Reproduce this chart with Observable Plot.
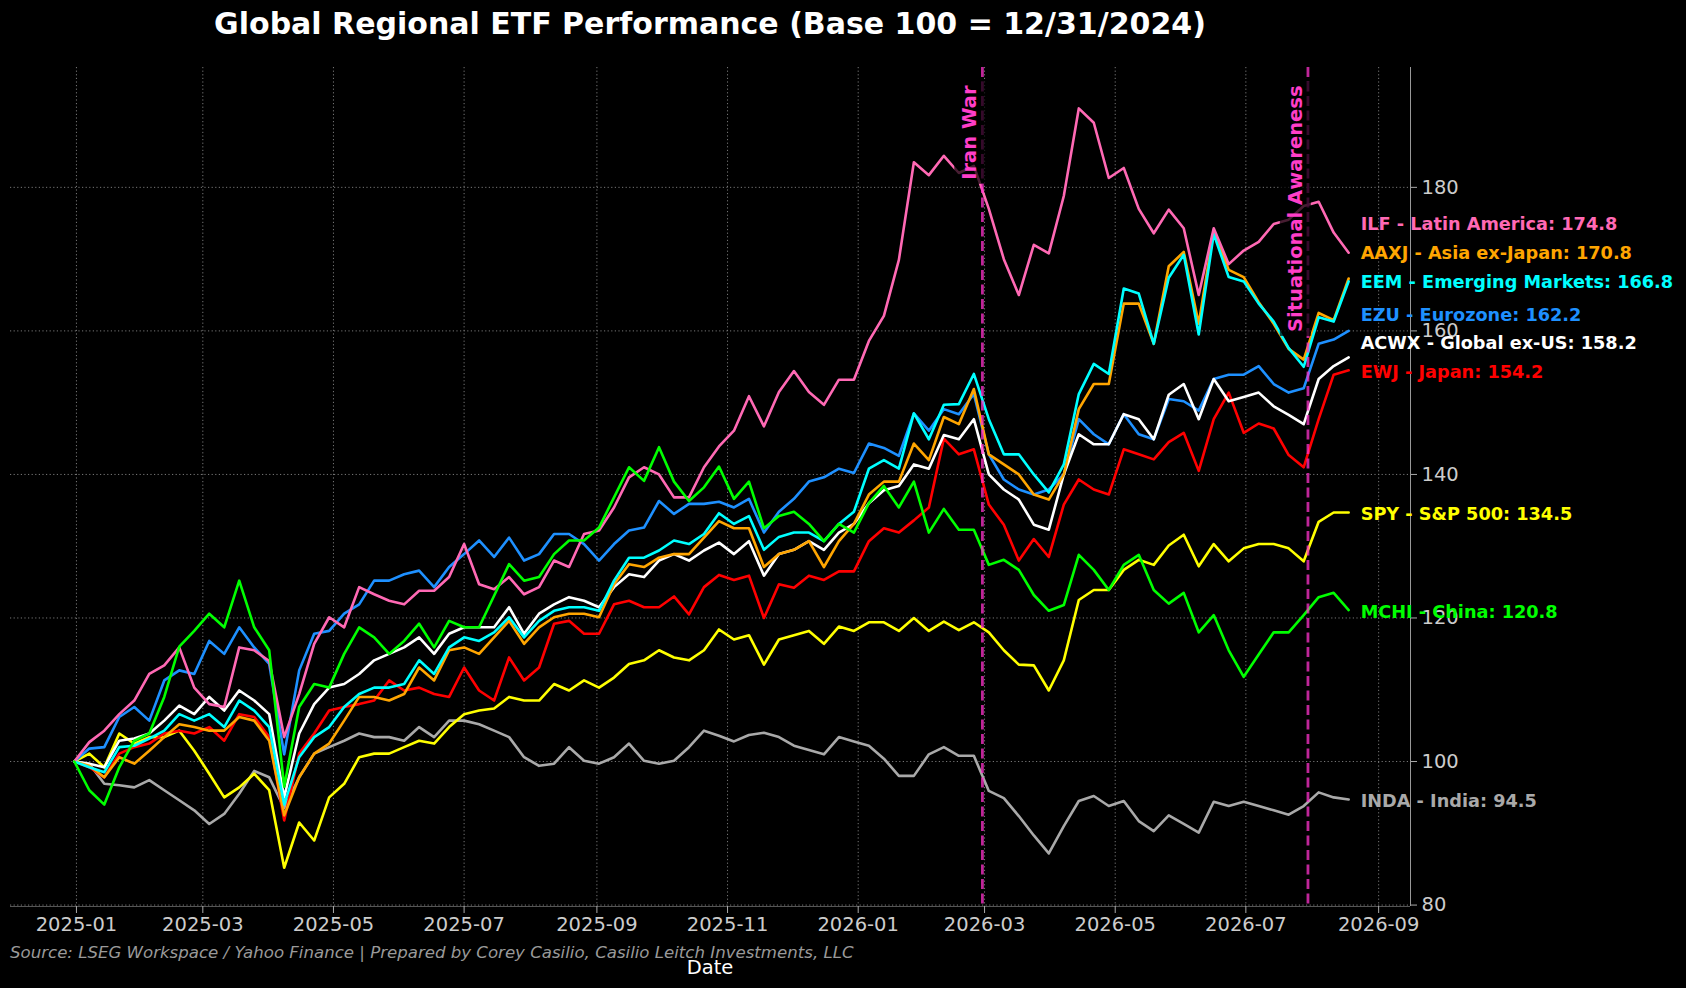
<!DOCTYPE html>
<html>
<head>
<meta charset="utf-8">
<script src="https://cdn.jsdelivr.net/npm/d3@7"></script>
<script src="https://cdn.jsdelivr.net/npm/@observablehq/plot@0.6"></script>
<style>
  html, body { margin: 0; padding: 0; background: #000; }
  #chart { width: 1686px; height: 988px; }
  #chart svg { display: block; }
</style>
</head>
<body>
<div id="chart"></div>
<script>
// ---------- DATA (weekly closes, base 100 = 2024-12-31) ----------
const firstDate = "2024-12-31";
const stepDays = 7;

const tickers = ["INDA", "SPY", "EWJ", "EZU", "ACWX", "AAXJ", "EEM", "ILF", "MCHI"];
const regionNames = ["India", "S&P 500", "Japan", "Eurozone", "Global ex-US", "Asia ex-Japan", "Emerging Markets", "Latin America", "China"];
const seriesColors = ["#a9a9a9", "#ffff00", "#ff0000", "#1e90ff", "#ffffff", "#ffa500", "#00ffff", "#ff69b4", "#00ff00"];
const labelValues = [94.5, 134.5, 154.2, 162.2, 158.2, 170.8, 166.8, 174.8, 120.8];

const inda = [100,99.7,96.9,96.7,96.4,97.4,96.0,94.6,93.2,91.3,92.7,95.5,98.7,97.8,93.5,
  97.8,101.1,102.0,102.9,103.9,103.4,103.4,102.9,104.8,103.4,105.7,105.7,105.2,104.3,
  103.4,100.6,99.4,99.7,102.0,100.1,99.7,100.6,102.5,100.1,99.7,100.1,102.0,104.3,
  103.6,102.8,103.7,104.0,103.4,102.2,101.6,101.0,103.4,102.8,102.2,100.4,98.0,98.0,101.0,
  102.0,100.8,100.8,95.9,94.9,92.4,89.7,87.2,91.0,94.5,95.2,93.8,94.5,91.7,90.3,
  92.5,91.3,90.1,94.4,93.8,94.4,93.8,93.2,92.6,93.8,95.7,95.0,94.7];

const spy = [100,101.1,99.2,103.9,102.5,103.4,103.4,104.3,101.5,98.3,95.0,96.4,98.3,96.0,85.2,
  91.5,89.0,95.0,96.9,100.6,101.1,101.1,102.0,102.9,102.5,104.8,106.6,107.1,107.4,
  109.0,108.5,108.5,110.8,109.9,111.3,110.3,111.7,113.6,114.1,115.5,114.5,114.1,115.5,
  118.4,117.0,117.6,113.5,117.0,117.6,118.2,116.4,118.8,118.2,119.4,119.4,118.2,120.0,118.2,
  119.5,118.3,119.4,118.0,115.5,113.5,113.4,109.9,114.1,122.5,123.9,123.9,126.7,128.1,127.4,
  130.1,131.6,127.2,130.3,127.9,129.7,130.3,130.3,129.7,127.9,133.4,134.7,134.7];

const ewj = [100,99.2,97.8,101.1,102.0,102.5,103.9,104.3,103.9,104.8,102.9,106.6,106.2,103.4,91.8,
  101.1,103.9,107.1,107.6,108.0,108.5,111.3,109.9,110.3,109.4,109.0,113.1,109.9,108.5,
  114.5,111.3,113.1,119.2,119.6,117.8,117.8,121.9,122.4,121.5,121.5,123.0,120.5,124.3,
  126.0,125.3,125.9,120.0,124.7,124.2,125.9,125.3,126.5,126.5,130.7,132.5,131.9,133.6,135.4,
  145.0,142.8,143.5,135.8,133.0,128.0,131.0,128.5,135.8,139.3,137.9,137.2,143.5,142.8,142.1,
  144.5,145.8,140.5,147.7,151.4,145.8,147.1,146.4,142.7,141.0,147.7,153.9,154.5];

const ezu = [100,101.8,102.0,106.2,107.6,105.7,111.3,112.7,112.2,116.8,115.0,118.7,115.9,113.6,101.0,
  112.7,117.8,118.2,120.6,121.9,125.2,125.2,126.1,126.6,124.3,127.1,128.9,130.8,128.5,
  131.2,128.0,128.9,131.7,131.7,130.3,128.0,130.3,132.2,132.6,136.3,134.5,135.9,135.9,
  136.2,135.4,136.6,131.9,134.8,136.6,139.0,139.6,140.8,140.2,144.3,143.7,142.6,148.5,146.1,
  149.1,148.4,151.2,142.8,139.3,137.9,137.2,137.9,140.0,147.7,145.6,144.2,148.4,145.6,144.9,
  150.5,150.2,148.9,153.3,153.9,153.9,155.1,152.6,151.4,152.0,158.2,158.8,160.0];

const acwx = [100,99.7,99.2,102.9,103.2,103.9,105.7,107.8,106.6,109.0,107.1,109.9,108.5,106.6,95.0,
  103.9,108.0,110.3,110.8,112.2,114.1,115.0,115.9,117.3,115.0,117.8,118.7,118.7,118.7,
  121.5,117.8,120.6,121.9,122.9,122.4,121.5,124.3,126.1,125.7,128.0,128.9,128.0,129.4,
  130.5,128.9,130.7,125.9,128.9,129.5,130.7,129.5,131.9,133.1,136.0,137.8,138.4,141.4,140.8,
  145.5,144.9,147.7,140.0,137.9,136.5,133.0,132.3,140.0,145.6,144.2,144.2,148.4,147.7,144.9,
  151.1,152.6,147.7,153.3,150.2,150.8,151.4,149.5,148.3,147.0,153.3,155.1,156.3];

const aaxj = [100,99.4,97.8,100.6,99.7,101.5,103.4,105.2,104.8,104.3,104.3,106.2,105.7,102.9,92.5,
  97.8,101.1,102.5,105.7,109.0,109.0,108.5,109.4,113.1,111.3,115.5,115.9,115.0,117.3,
  119.6,116.4,118.7,120.1,120.6,120.6,120.1,124.7,127.5,127.1,128.4,128.9,128.9,131.2,
  133.5,132.5,132.5,127.1,128.9,129.5,130.7,127.1,130.7,133.1,137.2,139.0,139.0,144.3,142.0,
  148.0,147.0,151.9,142.8,141.4,140.0,137.2,136.5,140.0,149.1,152.6,152.6,163.8,163.8,158.2,
  169.0,171.0,161.0,174.0,168.5,167.5,164.0,161.0,157.5,156.0,162.5,161.5,167.3];

const eem = [100,99.2,98.5,102.0,102.2,103.2,104.3,106.6,105.7,106.6,104.8,108.5,107.1,104.8,94.0,
  100.6,103.4,104.8,107.6,109.4,110.3,110.3,110.8,114.1,112.2,115.9,117.3,116.8,118.0,
  120.1,117.3,119.6,121.0,121.5,121.5,121.0,125.2,128.4,128.4,129.4,130.8,130.3,131.7,
  134.6,133.1,134.2,129.5,131.3,131.9,131.9,130.7,133.1,134.8,140.8,142.0,140.8,148.5,144.9,
  149.7,149.8,154.0,147.7,142.8,142.8,140.0,137.5,141.4,151.2,155.4,154.0,165.9,165.2,158.2,
  167.4,170.6,159.5,173.5,167.5,166.9,163.8,161.3,157.6,155.0,161.9,161.3,166.9];

const ilf = [100,102.7,104.3,106.6,108.5,112.2,113.4,115.9,110.3,108.0,107.6,115.9,115.5,114.0,103.4,
  109.4,116.4,120.1,118.7,124.3,123.3,122.4,121.9,123.8,123.8,125.7,130.3,124.7,124.0,
  125.7,123.3,124.3,128.0,127.1,131.7,132.2,135.4,139.6,141.0,140.0,136.8,136.8,141.0,
  143.9,146.1,150.9,146.7,151.5,154.4,151.5,149.7,153.2,153.2,158.6,162.1,169.9,183.5,181.7,
  184.4,182.0,183.0,177.0,170.0,165.0,172.0,170.8,178.8,191.0,189.0,181.3,182.7,177.0,173.6,
  176.9,174.3,165.0,174.3,169.3,171.2,172.4,174.9,175.5,177.4,178.0,173.7,170.9];

const mchi = [100,96.0,94.0,99.2,102.9,103.9,109.0,116.0,118.2,120.6,118.7,125.2,118.7,115.5,96.5,
  107.6,110.8,110.3,115.0,118.7,117.3,115.0,116.8,119.2,115.9,119.6,118.7,118.7,123.1,
  127.5,125.2,125.7,128.9,130.8,130.8,132.6,136.8,141.0,139.1,143.8,139.0,136.3,138.2,
  141.1,136.6,139.0,132.5,134.2,134.8,133.1,130.7,133.1,131.9,136.0,138.4,135.4,139.0,131.9,
  135.2,132.3,132.3,127.4,128.1,126.7,123.2,121.0,121.8,128.8,126.7,123.9,127.4,128.8,123.9,
  122.0,123.5,118.0,120.4,115.5,111.8,114.9,118.0,118.0,120.4,122.9,123.5,121.1];

const seriesValues = [inda, spy, ewj, ezu, acwx, aaxj, eem, ilf, mchi];

const eventDates = ["2026-02-28", "2026-07-30"];
const eventLabels = ["Iran War", "Situational Awareness"];

const yTicks = [80, 100, 120, 140, 160, 180];
const xTickLabels = ["2025-01", "2025-03", "2025-05", "2025-07", "2025-09", "2025-11",
                     "2026-01", "2026-03", "2026-05", "2026-07", "2026-09"];

const titleText = "Global Regional ETF Performance (Base 100 = 12/31/2024)";
const captionText = "Source: LSEG Workspace / Yahoo Finance | Prepared by Corey Casilio, Casilio Leitch Investments, LLC";
const xLabelText = "Date";

// ---------- BUILD ----------
const parseDay = d3.utcParse("%Y-%m-%d");
const parseMonth = d3.utcParse("%Y-%m");
const start = parseDay(firstDate);
const dates = inda.map((_, i) => d3.utcDay.offset(start, i * stepDays));
const lastDate = dates[dates.length - 1];

const rows = [];
tickers.forEach((t, si) => {
  seriesValues[si].forEach((v, i) => rows.push({ticker: t, date: dates[i], value: v}));
});
const labelRows = tickers.map((t, i) => ({
  ticker: t, date: lastDate, value: labelValues[i],
  text: `${t} - ${regionNames[i]}: ${labelValues[i].toFixed(1)}`
}));
const events = eventDates.map((d, i) => ({date: parseDay(d), label: eventLabels[i]}));
const xTicks = xTickLabels.map(parseMonth);

const xDomain = [new Date(Date.UTC(2024, 11, 1, 5)), new Date(Date.UTC(2026, 8, 15, 21))];
const yDomain = [79.8, 196.7];
const font = "DejaVu Sans";

const plot = Plot.plot({
  width: 1686,
  height: 988,
  marginLeft: 10,
  marginRight: 276,
  marginTop: 67,
  marginBottom: 82,
  style: {background: "#000", color: "#cccccc", fontFamily: font, fontSize: "19.5px", overflow: "visible"},
  x: {type: "utc", domain: xDomain},
  y: {domain: yDomain},
  color: {domain: tickers, range: seriesColors},
  marks: [
    Plot.gridX(xTicks, {stroke: "#777", strokeOpacity: 1, strokeWidth: 1, strokeDasharray: "1.2,2.4"}),
    Plot.gridY(yTicks, {stroke: "#777", strokeOpacity: 1, strokeWidth: 1, strokeDasharray: "1.2,2.4"}),
    Plot.ruleY([yDomain[0]], {stroke: "#555", strokeWidth: 1}),
    Plot.ruleX([xDomain[1]], {stroke: "#999", strokeWidth: 1}),
    Plot.axisX(xTicks, {tickFormat: d3.utcFormat("%Y-%m"), tickSize: 7, tickPadding: 4, stroke: "#aaa", fill: "#cccccc", label: null, fontSize: 19.5}),
    Plot.axisY(yTicks, {anchor: "right", tickSize: 6, tickPadding: 5, stroke: "#aaa", fill: "#cccccc", label: null, fontSize: 19.5}),
    Plot.line(rows, {x: "date", y: "value", z: "ticker", stroke: "ticker", strokeWidth: 2.6, strokeLinejoin: "round", curve: "linear"}),
    Plot.ruleX(events, {x: "date", stroke: "#ff33cc", strokeOpacity: 0.75, strokeWidth: 2.8, strokeDasharray: "10,4.5"}),
    Plot.text(events, {x: "date", frameAnchor: "top", dy: 18, dx: -20, rotate: -90, textAnchor: "end",
      text: "label", fill: "#ff3ec8", fontWeight: "bold", fontSize: 19.5, className: "event-label"}),
    Plot.text(labelRows, {x: "date", y: "value", text: "text", fill: "ticker", dx: 12, textAnchor: "start",
      fontWeight: "bold", fontSize: 17.7})
  ]
});

document.getElementById("chart").appendChild(plot);

// background boxes behind event labels (like a text bbox)
d3.select(plot).selectAll(".event-label text").each(function () {
  const bb = this.getBBox();
  const pad = 4;
  d3.select(this.parentNode).insert("rect", () => this)
    .attr("x", bb.x - pad).attr("y", bb.y - pad)
    .attr("width", bb.width + 2 * pad).attr("height", bb.height + 2 * pad)
    .attr("transform", this.getAttribute("transform"))
    .attr("fill", "#000").attr("fill-opacity", 0.72).attr("stroke", "none");
});

const svg = d3.select(plot);
svg.append("text").text(titleText)
  .attr("x", 710).attr("y", 34).attr("text-anchor", "middle")
  .attr("fill", "#ffffff").attr("font-family", font).attr("font-weight", "bold").attr("font-size", 30);
svg.append("text").text(captionText)
  .attr("x", 10).attr("y", 958).attr("text-anchor", "start")
  .attr("fill", "#999999").attr("font-family", font).attr("font-style", "italic").attr("font-size", 16.6);
svg.append("text").text(xLabelText)
  .attr("x", 710).attr("y", 974).attr("text-anchor", "middle")
  .attr("fill", "#ffffff").attr("font-family", font).attr("font-size", 19.5);
</script>
</body>
</html>
